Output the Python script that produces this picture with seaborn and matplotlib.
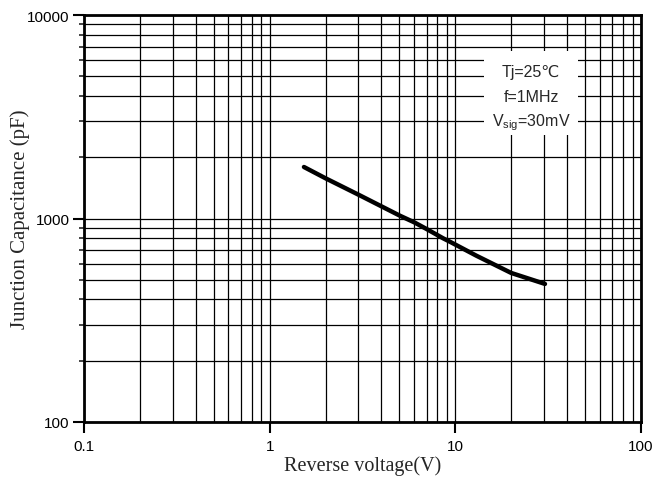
import matplotlib
matplotlib.use("Agg")
import matplotlib.pyplot as plt
import seaborn as sns
import pandas as pd
import numpy as np
from matplotlib.ticker import FixedLocator, NullFormatter, FixedFormatter
from matplotlib.patches import Rectangle

# data
voltage = [1.53, 2.0, 3.03, 5.03, 6.0, 7.0, 8.6, 9.35, 13.0, 20.0, 30.4]
capacitance = [1791, 1576, 1305, 1032, 958, 888, 799, 769, 656, 540, 477]
x_ticks = [0.1, 1, 10, 100]
x_labels = ["0.1", "1", "10", "100"]
y_ticks = [100, 1000, 10000]
y_labels = ["100", "1000", "10000"]
notes = ["Tj=25\u2103", "f=1MHz", "V$_\\mathregular{sig}$=30mV"]

sns.set_style("ticks")
plt.rcParams['font.family'] = ['Liberation Sans', 'DejaVu Sans']
plt.rcParams['mathtext.fontset'] = 'custom'
plt.rcParams['mathtext.rm'] = 'Liberation Sans'

df = pd.DataFrame({"V": voltage, "C": capacitance})

fig = plt.figure(figsize=(6.72, 4.81), dpi=100)
ax = fig.add_axes([84/672, 1-423/481, (641-84)/672, (423-16)/481])
ax.set_xscale("log")
ax.set_yscale("log")
ax.set_xlim(0.1, 100)
ax.set_ylim(100, 10000)

minor_x = [m * 10.0**e for e in (-1, 0, 1) for m in range(2, 10)]
minor_y = [m * 10.0**e for e in (2, 3) for m in range(2, 10)]
ax.xaxis.set_major_locator(FixedLocator(x_ticks))
ax.xaxis.set_major_formatter(FixedFormatter(x_labels))
ax.yaxis.set_major_locator(FixedLocator(y_ticks))
ax.yaxis.set_major_formatter(FixedFormatter(y_labels))
ax.xaxis.set_minor_locator(FixedLocator(minor_x))
ax.yaxis.set_minor_locator(FixedLocator(minor_y))
ax.xaxis.set_minor_formatter(NullFormatter())
ax.yaxis.set_minor_formatter(NullFormatter())

ax.grid(True, which="both", color="black", linewidth=0.9, zorder=0)
ax.set_axisbelow(True)

sns.lineplot(data=df, x="V", y="C", ax=ax, color="black", linewidth=3.2, zorder=5)

for s in ax.spines.values():
    s.set_linewidth(2.0)
    s.set_color("black")
ax.tick_params(which="major", direction="out", length=8, width=1.5,
               labelsize=11, colors="black")
ax.tick_params(axis="y", which="major", pad=2.5)
ax.tick_params(axis="x", which="major", pad=4)
ax.tick_params(which="minor", direction="out", length=3.5, width=1.2)
ax.tick_params(axis="x", which="minor", length=0)

ax.set_xlabel("Reverse voltage(V)", family="Liberation Serif", fontsize=14.5, labelpad=2)
ax.set_ylabel("Junction Capacitance (pF)", family="Liberation Serif", fontsize=15, labelpad=-2.5)

# annotation box
bx0 = (484-84)/557
bx1 = (578-84)/557
by0 = (423-136)/407
by1 = (423-52)/407
ax.add_patch(Rectangle((bx0, by0), bx1-bx0, by1-by0, transform=ax.transAxes,
                       facecolor="white", edgecolor="none", zorder=3))
for txt, py in zip(notes, [72, 97.5, 122.5]):
    ax.text((531-84)/557, (423-py)/407, txt, transform=ax.transAxes,
            ha="center", va="center", fontsize=11.5, zorder=4,
            family=['Liberation Sans', 'DejaVu Sans'])

fig.savefig("out.png", dpi=100, facecolor="white")
